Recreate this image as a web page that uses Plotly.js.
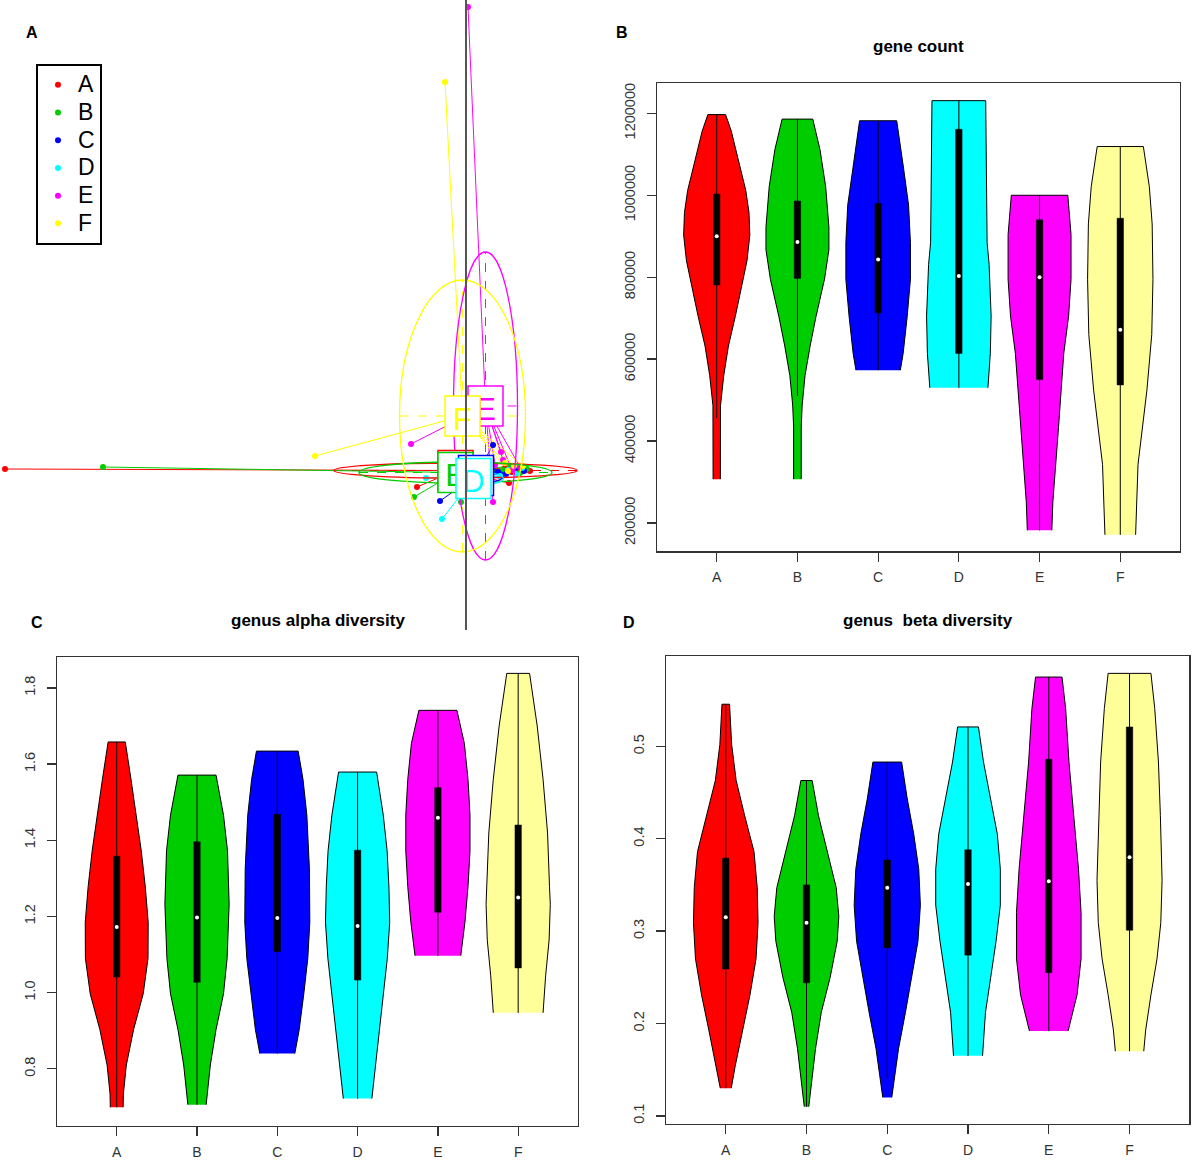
<!DOCTYPE html>
<html>
<head>
<meta charset="utf-8">
<script src="https://cdn.plot.ly/plotly-3.0.1.min.js"></script>
<style>html,body{margin:0;padding:0;background:#fff;}#chart{width:1192px;height:1161px;}</style>
</head>
<body>
<div id="chart"></div>
<script>
// ---------------- DATA ----------------
const groups = ['A', 'B', 'C', 'D', 'E', 'F'];
const pcaColors = ['#FF0000', '#00CD00', '#0000FF', '#00FFFF', '#FF00FF', '#FFFF00'];
const violinColors = ['#FF0000', '#00CD00', '#0000FF', '#00FFFF', '#FF00FF', '#FFFF99'];

// Panel A: ordination scores per group (axis 1, axis 2)
const pcaX = [
  [-4.61, -0.49, 0.43, 0.39, 0.46, 0.52, 0.64],
  [-3.63, -0.52, -0.05, 0.37, 0.44, 0.54, 0.61],
  [-0.26, 0.27, 0.58, 0.32, 0.40, 0.49],
  [-0.24, -0.40, 0.34, 0.42, 0.50, 0.56],
  [0.02, -0.55, 0.27, 0.35, 0.29, 0.37, 0.46, 0.54],
  [-0.21, -1.51, 0.57, 0.39, 0.48, 0.42]
];
const pcaY = [
  [0.01, -0.17, -0.13, 0.02, -0.02, 0.01, -0.01],
  [0.03, -0.27, -0.32, 0.00, 0.04, -0.03, 0.01],
  [-0.31, 0.25, -0.01, -0.02, -0.04, 0.02],
  [-0.49, -0.08, -0.06, 0.00, -0.04, 0.02],
  [4.63, 0.26, -0.32, 0.18, 0.05, 0.10, 0.00, 0.03],
  [3.88, 0.14, 0.04, 0.07, 0.04, -0.01]
];
const centroidX = [-0.105, -0.105, 0.10, 0.075, 0.195, -0.035];
const centroidY = [-0.005, -0.025, -0.055, -0.085, 0.64, 0.54];
const ellipseRX = [1.215, 0.965, 0.28, 0.30, 0.32, 0.63];
const ellipseRY = [0.075, 0.105, 0.08, 0.07, 1.54, 1.36];

// Panel B: gene count violins
const geneLevels = [
  [307000, 440000, 487000, 560000, 632000, 704000, 777000, 840000, 903000, 958000, 1012000, 1066000, 1157000, 1197000],
  [307000, 434000, 488000, 560000, 632000, 704000, 795000, 867000, 922000, 1021000, 1111000, 1186000],
  [573000, 614000, 704000, 795000, 885000, 976000, 1066000, 1182000],
  [530000, 614000, 705000, 831000, 885000, 1231000],
  [182000, 252000, 433000, 614000, 705000, 795000, 904000, 1000000],
  [171000, 343000, 524000, 660000, 795000, 930000, 1021000, 1119000]
];
const geneWidths = [
  [0.045, 0.046, 0.047, 0.087, 0.145, 0.23, 0.31, 0.375, 0.41, 0.40, 0.36, 0.29, 0.18, 0.11],
  [0.047, 0.047, 0.059, 0.094, 0.157, 0.23, 0.335, 0.39, 0.39, 0.35, 0.28, 0.19],
  [0.275, 0.31, 0.36, 0.40, 0.40, 0.377, 0.315, 0.23],
  [0.36, 0.39, 0.40, 0.375, 0.35, 0.333],
  [0.152, 0.165, 0.235, 0.30, 0.36, 0.39, 0.39, 0.35],
  [0.19, 0.22, 0.33, 0.39, 0.405, 0.395, 0.36, 0.286]
];
const geneBox = [[781000, 1003000], [797000, 986000], [713000, 980000], [614000, 1161000], [550000, 940000], [537000, 944000]];
const geneMedian = [900000, 886000, 843000, 803000, 800000, 672000];
const geneWhisker = [[456000, 1197000], [510000, 1186000], [573000, 1182000], [530000, 1231000], [182000, 1000000], [171000, 1119000]];
const geneTicks = [200000, 400000, 600000, 800000, 1000000, 1200000];

// Panel C: genus alpha diversity violins
const alphaLevels = [
  [0.699, 0.734, 0.81, 0.903, 0.997, 1.09, 1.185, 1.278, 1.372, 1.466, 1.56, 1.658],
  [0.706, 0.81, 0.903, 0.997, 1.09, 1.232, 1.372, 1.466, 1.571],
  [0.84, 0.903, 0.997, 1.09, 1.185, 1.325, 1.466, 1.56, 1.634],
  [0.722, 0.856, 0.997, 1.09, 1.185, 1.278, 1.372, 1.466, 1.579],
  [1.097, 1.185, 1.278, 1.372, 1.466, 1.56, 1.654, 1.741],
  [0.947, 1.044, 1.138, 1.232, 1.278, 1.419, 1.56, 1.70, 1.838]
];
const alphaWidths = [
  [0.08, 0.083, 0.12, 0.21, 0.33, 0.39, 0.392, 0.356, 0.306, 0.245, 0.178, 0.107],
  [0.114, 0.166, 0.237, 0.33, 0.375, 0.40, 0.38, 0.33, 0.237],
  [0.218, 0.273, 0.33, 0.38, 0.405, 0.40, 0.368, 0.32, 0.26],
  [0.178, 0.25, 0.32, 0.37, 0.40, 0.39, 0.368, 0.32, 0.237],
  [0.285, 0.337, 0.375, 0.40, 0.40, 0.375, 0.33, 0.237],
  [0.31, 0.342, 0.385, 0.40, 0.39, 0.366, 0.31, 0.237, 0.142]
];
const alphaBox = [[1.041, 1.358], [1.027, 1.396], [1.108, 1.468], [1.033, 1.374], [1.211, 1.538], [1.065, 1.44]];
const alphaMedian = [1.172, 1.197, 1.196, 1.175, 1.459, 1.25];
const alphaWhisker = [[0.699, 1.658], [0.706, 1.571], [0.84, 1.634], [0.722, 1.579], [1.097, 1.741], [0.947, 1.838]];
const alphaTicks = [0.8, 1.0, 1.2, 1.4, 1.6, 1.8];

// Panel D: genus beta diversity violins
const betaLevels = [
  [0.130, 0.154, 0.193, 0.231, 0.27, 0.309, 0.347, 0.386, 0.425, 0.463, 0.502, 0.5456],
  [0.110, 0.135, 0.173, 0.212, 0.25, 0.289, 0.316, 0.347, 0.386, 0.425, 0.463],
  [0.12, 0.143, 0.173, 0.212, 0.25, 0.289, 0.328, 0.367, 0.405, 0.444, 0.483],
  [0.165, 0.212, 0.25, 0.289, 0.328, 0.367, 0.405, 0.444, 0.483, 0.521],
  [0.192, 0.231, 0.27, 0.32, 0.367, 0.425, 0.483, 0.541, 0.575],
  [0.17, 0.193, 0.231, 0.27, 0.309, 0.355, 0.425, 0.483, 0.541, 0.579]
];
const betaWidths = [
  [0.068, 0.117, 0.21, 0.30, 0.375, 0.40, 0.39, 0.35, 0.234, 0.129, 0.073, 0.047],
  [0.028, 0.059, 0.112, 0.183, 0.293, 0.38, 0.40, 0.368, 0.258, 0.148, 0.07],
  [0.056, 0.094, 0.14, 0.225, 0.305, 0.38, 0.41, 0.39, 0.328, 0.246, 0.178],
  [0.18, 0.216, 0.281, 0.347, 0.40, 0.40, 0.363, 0.28, 0.192, 0.129],
  [0.24, 0.35, 0.40, 0.40, 0.368, 0.305, 0.25, 0.209, 0.164],
  [0.176, 0.2, 0.265, 0.34, 0.387, 0.403, 0.382, 0.358, 0.312, 0.265]
];
const betaBox = [[0.259, 0.379], [0.244, 0.35], [0.282, 0.377], [0.274, 0.388], [0.255, 0.486], [0.301, 0.521]];
const betaMedian = [0.315, 0.309, 0.347, 0.351, 0.354, 0.38];
const betaWhisker = [[0.13, 0.5456], [0.11, 0.463], [0.141, 0.483], [0.165, 0.521], [0.192, 0.575], [0.17, 0.579]];
const betaTicks = [0.1, 0.2, 0.3, 0.4, 0.5];

// ---------------- BUILD ----------------
const FONT = 'Liberation Sans, Arial, Helvetica, sans-serif';
const W = 1192, H = 1161;
const px = v => v / W;
const py = v => 1 - v / H;

const traces = [];
const shapes = [];

// Panel A: spider lines and ellipse axes
groups.forEach((g, i) => {
  const sx = [], sy = [];
  pcaX[i].forEach((xv, k) => {
    sx.push(xv, centroidX[i], null);
    sy.push(pcaY[i][k], centroidY[i], null);
  });
  traces.push({
    type: 'scatter', mode: 'lines', x: sx, y: sy, xaxis: 'x', yaxis: 'y',
    line: {color: pcaColors[i], width: 1}, showlegend: false, hoverinfo: 'skip'
  });
  const cx = centroidX[i], cy = centroidY[i], rx = ellipseRX[i], ry = ellipseRY[i];
  traces.push({
    type: 'scatter', mode: 'lines',
    x: [cx - rx, cx + rx, null, cx, cx],
    y: [cy, cy, null, cy - ry, cy + ry],
    xaxis: 'x', yaxis: 'y',
    line: {color: pcaColors[i], width: 1, dash: 'dash'}, showlegend: false, hoverinfo: 'skip'
  });
});
// Panel A: points (these also feed the legend)
groups.forEach((g, i) => {
  traces.push({
    type: 'scatter', mode: 'markers', name: '<span style="font-size:23px">' + g + '</span>',
    x: pcaX[i], y: pcaY[i], xaxis: 'x', yaxis: 'y',
    marker: {color: pcaColors[i], size: 6}, showlegend: true
  });
});
// Panel A: ellipses
groups.forEach((g, i) => {
  const cx = centroidX[i], cy = centroidY[i], rx = ellipseRX[i], ry = ellipseRY[i];
  shapes.push({
    type: 'circle', xref: 'x', yref: 'y', x0: cx - rx, x1: cx + rx, y0: cy - ry, y1: cy + ry,
    line: {color: pcaColors[i], width: 1.3}, fillcolor: 'rgba(0,0,0,0)', layer: 'above'
  });
});
// Panel A: group label boxes at centroids
const labelHalfW = 0.175, labelHalfH = 0.20;
groups.forEach((g, i) => {
  shapes.push({
    type: 'rect', xref: 'x', yref: 'y',
    x0: centroidX[i] - labelHalfW, x1: centroidX[i] + labelHalfW,
    y0: centroidY[i] - labelHalfH, y1: centroidY[i] + labelHalfH,
    fillcolor: '#FFFFFF', line: {color: pcaColors[i], width: 1.5}, layer: 'above',
    label: {text: g, font: {family: FONT, size: 31, color: pcaColors[i]}, textposition: 'middle center'}
  });
});
shapes.push({
  type: 'line', xref: 'x', yref: 'y', x0: 0, x1: 0, y0: -1.6, y1: 4.7,
  line: {color: '#555555', width: 2}, layer: 'above'
});

// Violin panels
function addViolins(levels, widths, box, median, whisker, xa, ya) {
  groups.forEach((g, i) => {
    const pos = i + 1;
    const lv = levels[i], wd = widths[i];
    const vx = [], vy = [];
    for (let k = 0; k < lv.length; k++) { vx.push(pos + wd[k]); vy.push(lv[k]); }
    for (let k = lv.length - 1; k >= 0; k--) { vx.push(pos - wd[k]); vy.push(lv[k]); }
    traces.push({
      type: 'scatter', mode: 'lines', x: vx, y: vy, xaxis: xa, yaxis: ya,
      fill: 'toself', fillcolor: violinColors[i], line: {color: '#000000', width: 1},
      showlegend: false, hoverinfo: 'skip'
    });
    traces.push({
      type: 'scatter', mode: 'lines', x: [pos, pos], y: whisker[i], xaxis: xa, yaxis: ya,
      line: {color: '#000000', width: 1}, showlegend: false, hoverinfo: 'skip'
    });
    const bw = 0.04;
    traces.push({
      type: 'scatter', mode: 'lines',
      x: [pos - bw, pos + bw, pos + bw, pos - bw, pos - bw],
      y: [box[i][0], box[i][0], box[i][1], box[i][1], box[i][0]],
      xaxis: xa, yaxis: ya, fill: 'toself', fillcolor: '#000000',
      line: {color: '#000000', width: 0.5}, showlegend: false, hoverinfo: 'skip'
    });
    traces.push({
      type: 'scatter', mode: 'markers', x: [pos], y: [median[i]], xaxis: xa, yaxis: ya,
      marker: {color: '#FFFFFF', size: 4}, showlegend: false, hoverinfo: 'skip'
    });
  });
}
addViolins(geneLevels, geneWidths, geneBox, geneMedian, geneWhisker, 'x2', 'y2');
addViolins(alphaLevels, alphaWidths, alphaBox, alphaMedian, alphaWhisker, 'x3', 'y3');
addViolins(betaLevels, betaWidths, betaBox, betaMedian, betaWhisker, 'x4', 'y4');

function catAxis(domain, anchor) {
  return {
    domain: domain, anchor: anchor, range: [0.26, 6.74], tickmode: 'array',
    tickvals: groups.map((g, i) => i + 1), ticktext: groups,
    showline: true, mirror: true, linecolor: '#333333', linewidth: 1.3,
    ticks: 'outside', ticklen: 9, tickcolor: '#333333', tickwidth: 1.3,
    ticklabelstandoff: 4,
    tickfont: {family: FONT, size: 14, color: '#333333'},
    showgrid: false, zeroline: false, fixedrange: true
  };
}
function valAxis(domain, anchor, range, ticks, fmt) {
  return {
    domain: domain, anchor: anchor, range: range, tickmode: 'array',
    tickvals: ticks, ticktext: ticks.map(fmt), tickangle: -90,
    showline: true, mirror: true, linecolor: '#333333', linewidth: 1.3,
    ticks: 'outside', ticklen: 9, tickcolor: '#333333', tickwidth: 1.3,
    ticklabelstandoff: 6,
    tickfont: {family: FONT, size: 14.5, color: '#333333'},
    showgrid: false, zeroline: false, fixedrange: true
  };
}

const annotations = [];
function addText(text, x, y, size) {
  annotations.push({
    text: text, xref: 'paper', yref: 'paper', x: px(x), y: py(y),
    xanchor: 'center', yanchor: 'middle', showarrow: false,
    font: {family: FONT, size: size, color: '#000000'}
  });
}
addText('<b>A</b>', 32, 33, 16);
addText('<b>B</b>', 622, 33, 16);
addText('<b>C</b>', 37, 622, 16);
addText('<b>D</b>', 629, 622, 16);
addText('<b>gene count</b>', 918.5, 47, 17);
addText('<b>genus alpha diversity</b>', 317.5, 621, 17);
addText('<b>genus\u00a0 beta diversity</b>', 928, 620, 17);

const layout = {
  width: W, height: H,
  margin: {l: 0, r: 0, t: 0, b: 0, pad: 0},
  paper_bgcolor: '#FFFFFF', plot_bgcolor: 'rgba(0,0,0,0)',
  font: {family: FONT},
  showlegend: true,
  legend: {
    x: px(36), y: py(64), xanchor: 'left', yanchor: 'top',
    bordercolor: '#000000', borderwidth: 2, bgcolor: '#FFFFFF',
    font: {family: FONT, size: 19, color: '#000000'},
    itemclick: false, itemdoubleclick: false
  },
  xaxis: {domain: [0, 0.5], range: [-4.66, 1.30], visible: false, fixedrange: true},
  yaxis: {domain: [py(630), 1], range: [-1.60, 4.70], visible: false, fixedrange: true},
  xaxis2: catAxis([px(657), px(1180)], 'y2'),
  yaxis2: valAxis([py(551.3), py(83.3)], 'x2', [130800, 1273400], geneTicks, v => String(v)),
  xaxis3: catAxis([px(57.3), px(577.6)], 'y3'),
  yaxis3: valAxis([py(1126), py(657)], 'x3', [0.650, 1.881], alphaTicks, v => v.toFixed(1)),
  xaxis4: catAxis([px(666), px(1189.3)], 'y4'),
  yaxis4: valAxis([py(1124), py(656)], 'x4', [0.0912, 0.5978], betaTicks, v => v.toFixed(1)),
  shapes: shapes,
  annotations: annotations
};

Plotly.newPlot('chart', traces, layout, {displayModeBar: false, staticPlot: true});
</script>
</body>
</html>
